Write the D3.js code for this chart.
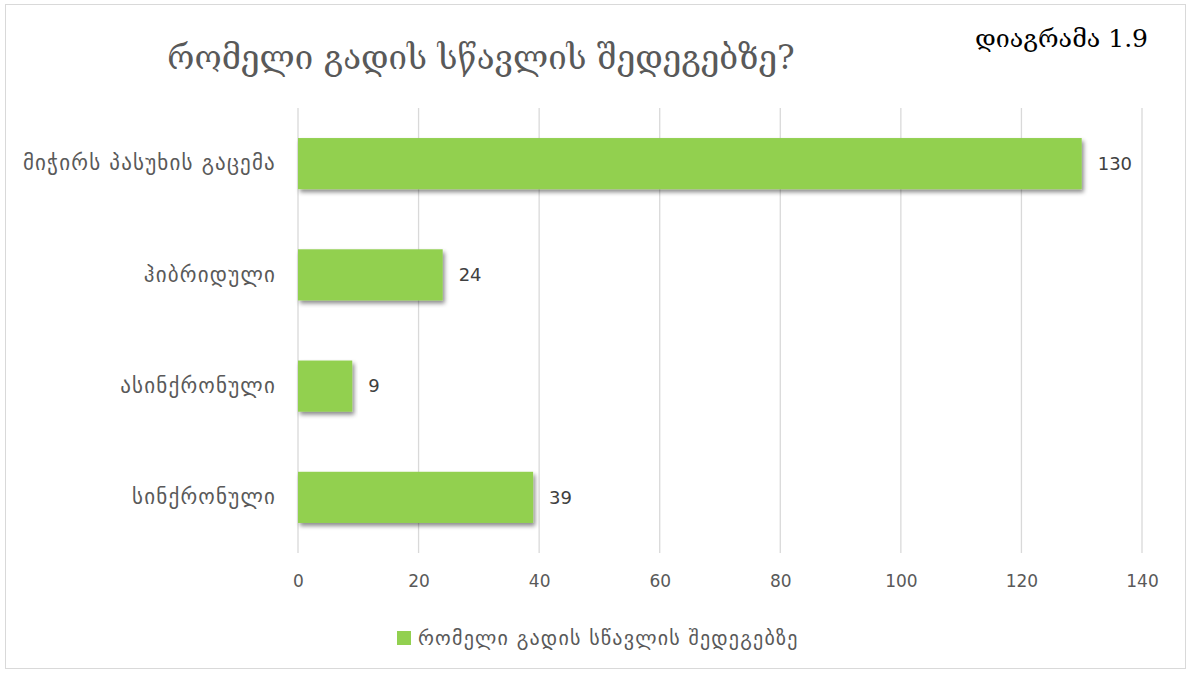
<!DOCTYPE html>
<html>
<head>
<meta charset="utf-8">
<script src="https://cdn.jsdelivr.net/npm/d3@7"></script>
<style>
  body { margin: 0; background: #fff; }
  svg { display: block; }
</style>
</head>
<body>
<svg id="chart" width="1191" height="673"></svg>
<script>
// Learning modes and the number of respondents for each
const categories = ["მიჭირს პასუხის გაცემა", "ჰიბრიდული", "ასინქრონული", "სინქრონული"];
const values = [130, 24, 9, 39];
const xTicks = [0, 20, 40, 60, 80, 100, 120, 140];
const titleText = "რომელი გადის სწავლის შედეგებზე?";
const seriesName = "რომელი გადის სწავლის შედეგებზე";
const figureLabel = "დიაგრამა 1.9";

const svg = d3.select("#chart");
const W = 1191, H = 673;
const m = { left: 298, right: 48, top: 108, bottom: 120 };

const labelFont = "'DejaVu Sans', 'Noto Sans', sans-serif";

// outer frame
svg.append("rect")
  .attr("x", 5.5).attr("y", 4.5)
  .attr("width", W - 11).attr("height", H - 9)
  .attr("fill", "#fff").attr("stroke", "#d9d9d9").attr("stroke-width", 1);

// soft drop shadow for the bars
const defs = svg.append("defs");
const f = defs.append("filter").attr("id", "shadow")
  .attr("x", "-5%").attr("y", "-20%").attr("width", "115%").attr("height", "150%");
f.append("feDropShadow")
  .attr("dx", 2).attr("dy", 3).attr("stdDeviation", 2.2)
  .attr("flood-color", "#000").attr("flood-opacity", 0.45);

const x = d3.scaleLinear().domain([0, 140]).range([m.left, W - m.right - 1]);
const y = d3.scaleBand().domain(categories)
  .range([m.top, H - m.bottom]).paddingInner(0.54).paddingOuter(0.27);

// vertical gridlines
svg.append("g").selectAll("line").data(xTicks).join("line")
  .attr("x1", d => x(d)).attr("x2", d => x(d))
  .attr("y1", m.top).attr("y2", H - m.bottom)
  .attr("stroke", "#d9d9d9").attr("stroke-width", 1.3);

// x axis tick labels
const xAxis = d3.axisBottom(x).tickValues(xTicks).tickSize(0).tickPadding(22);
const gx = svg.append("g").attr("transform", `translate(0,${H - m.bottom})`).call(xAxis);
gx.select(".domain").remove();
gx.selectAll("text")
  .attr("font-family", labelFont).attr("font-size", 17).attr("fill", "#595959");

// category labels
const yAxis = d3.axisLeft(y).tickSize(0).tickPadding(22);
const gy = svg.append("g").attr("transform", `translate(${m.left},0)`).call(yAxis);
gy.select(".domain").remove();
gy.selectAll("text")
  .attr("font-family", labelFont).attr("font-size", 21)
  .attr("letter-spacing", 1.2).attr("fill", "#595959");

// bars
svg.append("g").selectAll("rect").data(categories).join("rect")
  .attr("x", x(0))
  .attr("y", d => y(d))
  .attr("width", (d, i) => x(values[i]) - x(0))
  .attr("height", y.bandwidth())
  .attr("fill", "#92d050")
  .attr("filter", "url(#shadow)");

// value labels
svg.append("g").selectAll("text").data(categories).join("text")
  .attr("x", (d, i) => x(values[i]) + 16)
  .attr("y", d => y(d) + y.bandwidth() / 2)
  .attr("dy", "0.35em")
  .attr("font-family", labelFont).attr("font-size", 18).attr("fill", "#404040")
  .text((d, i) => values[i]);

// title
svg.append("text")
  .attr("x", 481).attr("y", 69)
  .attr("text-anchor", "middle")
  .attr("font-family", "'DejaVu Serif', 'DejaVu Sans', serif")
  .attr("font-size", 33).attr("fill", "#595959")
  .text(titleText);

// figure number
svg.append("text")
  .attr("x", 1148).attr("y", 47)
  .attr("text-anchor", "end")
  .attr("font-family", "'DejaVu Serif', serif")
  .attr("font-size", 25).attr("fill", "#000")
  .text(figureLabel);

// legend
const lg = svg.append("g").attr("transform", "translate(397,631)");
lg.append("rect").attr("width", 14).attr("height", 14).attr("fill", "#92d050");
lg.append("text").attr("x", 21).attr("y", 7).attr("dy", "0.35em")
  .attr("font-family", labelFont).attr("font-size", 20)
  .attr("letter-spacing", 1.2).attr("fill", "#595959")
  .text(seriesName);
</script>
</body>
</html>
